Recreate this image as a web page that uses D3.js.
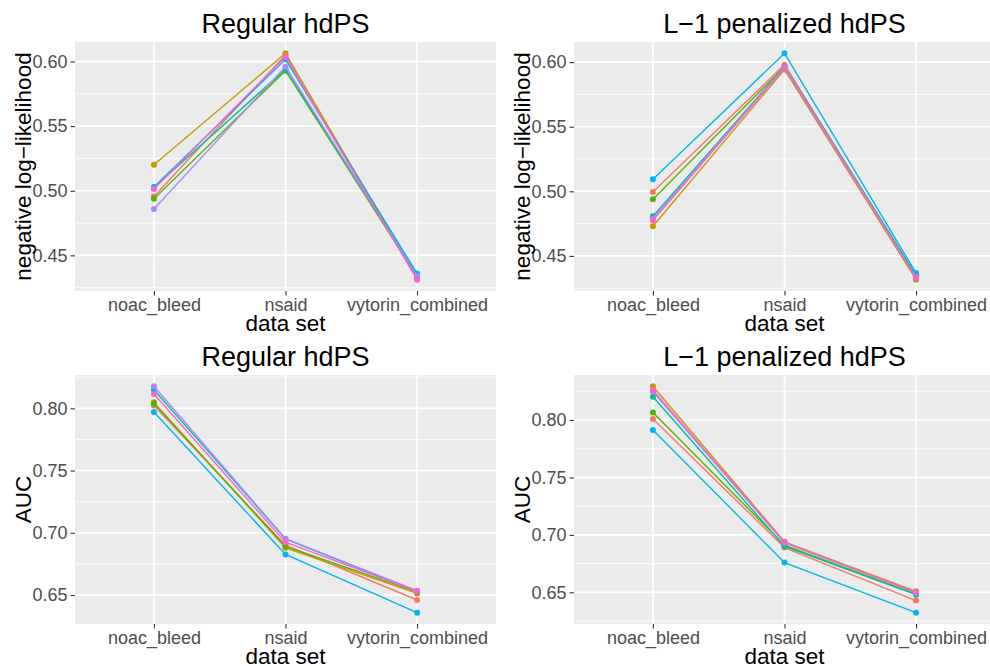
<!DOCTYPE html>
<html><head><meta charset="utf-8">
<script src="https://cdn.jsdelivr.net/npm/d3@7"></script>
<style>body{margin:0;background:#fff}svg{display:block;font-family:"Liberation Sans",Arial,sans-serif}</style>
</head><body><svg id="c" width="990" height="666"></svg>
<script>
const categories = ["noac_bleed", "nsaid", "vytorin_combined"];
const seriesNames = ["s1", "s2", "s3", "s4", "s5", "s6", "s7"];
const seriesColors = ["#F8766D", "#C49A00", "#53B400", "#00C094", "#00B6EB", "#A58AFF", "#FB61D7"];
const titles = ["Regular hdPS", "L\u22121 penalized hdPS"];
const yTitles = ["negative log\u2212likelihood", "AUC"];
const xTitle = "data set";
const yTicksNLL = [0.45, 0.50, 0.55, 0.60];
const yTicksAUC = [0.65, 0.70, 0.75, 0.80];

// Regular hdPS, negative log-likelihood (rows = series, cols = categories)
const regNLL = [
  [0.4956, 0.6050, 0.4330],
  [0.5201, 0.6063, 0.4325],
  [0.4938, 0.5929, 0.4335],
  [0.5025, 0.5940, 0.4350],
  [0.5029, 0.6017, 0.4360],
  [0.4859, 0.5960, 0.4340],
  [0.5013, 0.6037, 0.4312]
];
// L-1 penalized hdPS, negative log-likelihood
const l1NLL = [
  [0.4995, 0.5980, 0.4340],
  [0.4730, 0.5942, 0.4316],
  [0.4938, 0.5965, 0.4345],
  [0.4807, 0.5965, 0.4350],
  [0.5093, 0.6068, 0.4367],
  [0.4789, 0.5960, 0.4335],
  [0.4776, 0.5955, 0.4330]
];
// Regular hdPS, AUC
const regAUC = [
  [0.8022, 0.6900, 0.6460],
  [0.8048, 0.6879, 0.6513],
  [0.8038, 0.6890, 0.6525],
  [0.8150, 0.6950, 0.6530],
  [0.7970, 0.6826, 0.6358],
  [0.8177, 0.6952, 0.6535],
  [0.8115, 0.6924, 0.6530]
];
// L-1 penalized hdPS, AUC
const l1AUC = [
  [0.8009, 0.6890, 0.6428],
  [0.8293, 0.6940, 0.6509],
  [0.8066, 0.6910, 0.6485],
  [0.8202, 0.6900, 0.6480],
  [0.7913, 0.6759, 0.6323],
  [0.8246, 0.6930, 0.6495],
  [0.8261, 0.6935, 0.6500]
];

const svg = d3.select("#c");
const panels = [
  {data: regNLL, title: titles[0], yTitle: yTitles[0], ticks: yTicksNLL, ox: 0, oy: 0},
  {data: l1NLL, title: titles[1], yTitle: yTitles[0], ticks: yTicksNLL, ox: 499, oy: 0},
  {data: regAUC, title: titles[0], yTitle: yTitles[1], ticks: yTicksAUC, ox: 0, oy: 333},
  {data: l1AUC, title: titles[1], yTitle: yTitles[1], ticks: yTicksAUC, ox: 499, oy: 333}
];

panels.forEach(p => {
  const x0 = 75 + p.ox, x1 = 496 + p.ox, y0 = 42 + p.oy, y1 = 291 + p.oy;
  const g = svg.append("g");
  const all = p.data.flat();
  const mn = d3.min(all), mx = d3.max(all), r = mx - mn;
  const x = d3.scalePoint().domain(categories).range([x0, x1]).padding(0.6);
  const y = d3.scaleLinear().domain([mn - 0.05 * r, mx + 0.05 * r]).range([y1, y0]);

  g.append("rect").attr("x", x0).attr("y", y0).attr("width", x1 - x0).attr("height", y1 - y0).attr("fill", "#EBEBEB");
  // minor gridlines
  const step = p.ticks[1] - p.ticks[0];
  const minors = [];
  for (let i = -1; i < p.ticks.length; i++) {
    const v = (i < 0 ? p.ticks[0] - step : p.ticks[i]) + step / 2;
    if (v >= y.domain()[0] && v <= y.domain()[1]) minors.push(v);
  }
  g.selectAll(".mn").data(minors).join("line")
    .attr("x1", x0).attr("x2", x1).attr("y1", d => y(d)).attr("y2", d => y(d))
    .attr("stroke", "#fff").attr("stroke-width", 0.8);
  g.selectAll(".mj").data(p.ticks).join("line")
    .attr("x1", x0).attr("x2", x1).attr("y1", d => y(d)).attr("y2", d => y(d))
    .attr("stroke", "#fff").attr("stroke-width", 1.6);
  g.selectAll(".mx").data(categories).join("line")
    .attr("x1", d => x(d)).attr("x2", d => x(d)).attr("y1", y0).attr("y2", y1)
    .attr("stroke", "#fff").attr("stroke-width", 1.6);

  // axes
  const ya = g.append("g").attr("transform", `translate(${x0},0)`)
    .call(d3.axisLeft(y).tickValues(p.ticks).tickFormat(d3.format(".2f")).tickSize(4.5).tickPadding(3));
  ya.select(".domain").remove();
  ya.selectAll("line").attr("stroke", "#333333").attr("stroke-width", 1.1);
  ya.selectAll("text").attr("fill", "#4D4D4D").style("font-size", "18px").style("font-family", "Liberation Sans, Arial, sans-serif");
  const xa = g.append("g").attr("transform", `translate(0,${y1})`)
    .call(d3.axisBottom(x).tickSize(4.5).tickPadding(3));
  xa.select(".domain").remove();
  xa.selectAll("line").attr("stroke", "#333333").attr("stroke-width", 1.1);
  xa.selectAll("text").attr("fill", "#4D4D4D").style("font-size", "18px").style("font-family", "Liberation Sans, Arial, sans-serif");

  // series
  const line = d3.line().x((d, i) => x(categories[i])).y(d => y(d));
  p.data.forEach((vals, si) => {
    g.append("path").datum(vals).attr("d", line).attr("fill", "none")
      .attr("stroke", seriesColors[si]).attr("stroke-width", 1.4);
    g.selectAll(".pt" + si).data(vals).join("circle")
      .attr("cx", (d, i) => x(categories[i])).attr("cy", d => y(d)).attr("r", 3)
      .attr("fill", seriesColors[si]);
  });

  // titles
  g.append("text").attr("x", (x0 + x1) / 2).attr("y", 33 + p.oy).attr("text-anchor", "middle")
    .style("font-size", "27px").attr("fill", "#000").text(p.title);
  g.append("text").attr("x", (x0 + x1) / 2).attr("y", 331 + p.oy).attr("text-anchor", "middle")
    .style("font-size", "22.5px").attr("fill", "#000").text(xTitle);
  g.append("text").attr("transform", `translate(${31 + p.ox},${(y0 + y1) / 2}) rotate(-90)`)
    .attr("text-anchor", "middle").style("font-size", "22.5px").attr("fill", "#000").text(p.yTitle);
});
</script></body></html>
